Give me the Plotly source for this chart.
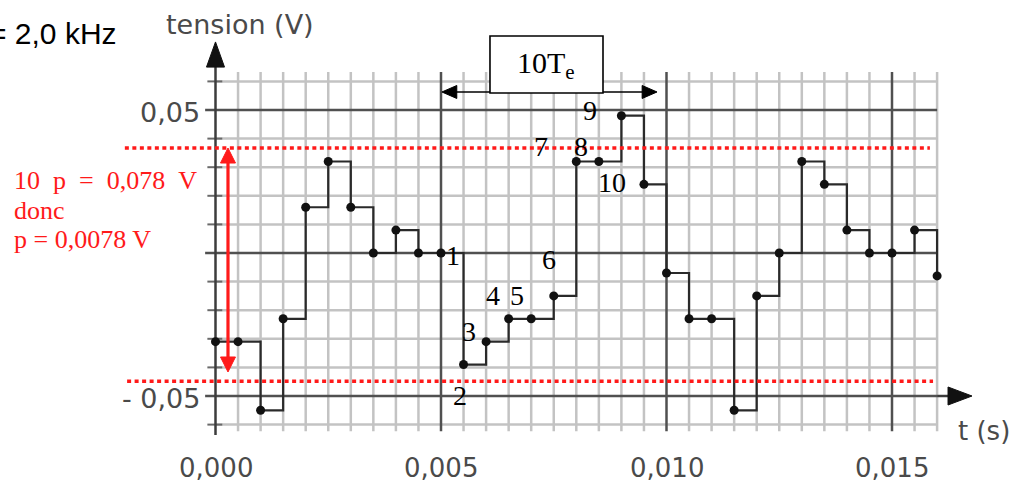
import plotly.graph_objects as go

# ---------------- data ----------------
t_samples = [0.0000, 0.0005, 0.0010, 0.0015, 0.0020, 0.0025, 0.0030, 0.0035,
             0.0040, 0.0045, 0.0050, 0.0055, 0.0060, 0.0065, 0.0070, 0.0075,
             0.0080, 0.0085, 0.0090, 0.0095, 0.0100, 0.0105, 0.0110, 0.0115,
             0.0120, 0.0125, 0.0130, 0.0135, 0.0140, 0.0145, 0.0150, 0.0155,
             0.0160]
v_samples = [-0.031, -0.031, -0.055, -0.023, 0.016, 0.032, 0.016, 0.000,
             0.008, 0.000, 0.000, -0.039, -0.031, -0.023, -0.023, -0.015,
             0.032, 0.032, 0.048, 0.024, -0.007, -0.023, -0.023, -0.055,
             -0.015, 0.000, 0.032, 0.024, 0.008, 0.000, 0.000, 0.008,
             -0.008]

x_tick_vals = [0.000, 0.005, 0.010, 0.015]
x_tick_text = ["0,000", "0,005", "0,010", "0,015"]
y_tick_vals = [0.05, -0.05]
y_tick_text = ["0,05", "- 0,05"]

point_labels = ["1", "2", "3", "4", "5", "6", "7", "8", "9", "10"]
label_t = [0.00527, 0.00542, 0.00562, 0.00615, 0.00668, 0.00740,
           0.00722, 0.00810, 0.00830, 0.00879]
label_v = [-0.0010, -0.0497, -0.0273, -0.0150, -0.0150, -0.0021,
           0.0371, 0.0371, 0.0497, 0.0245]

red_top = 0.0367
red_bottom = -0.0448

# ---------------- layout constants ----------------
X_RANGE = [-0.0047783, 0.0179268]
Y_RANGE = [-0.082168, 0.088462]
T_STEP = 0.0005
V_STEP = 0.01
T_MAX = 0.016
GRID_V_TOP = 0.0633
GRID_V_BOT = -0.0623

MINOR = "#c3c3c3"
MAJOR = "#505050"
GRAY_TXT = "#4a4a4a"

shapes = []


def line(x0, y0, x1, y1, color, width, layer="below", dash=None):
    d = dict(type="line", xref="x", yref="y", x0=x0, y0=y0, x1=x1, y1=y1,
             line=dict(color=color, width=width), layer=layer)
    if dash:
        d["line"]["dash"] = dash
    shapes.append(d)


def tri(pts, color, layer="above"):
    p = "M " + " L ".join(f"{a},{b}" for a, b in pts) + " Z"
    shapes.append(dict(type="path", xref="x", yref="y", path=p,
                       fillcolor=color, line=dict(color=color, width=1),
                       layer=layer))


# minor vertical grid lines
n_t = int(round(T_MAX / T_STEP))
for i in range(1, n_t + 1):
    t = i * T_STEP
    if i % 10 == 0:
        continue
    line(t, GRID_V_BOT, t, GRID_V_TOP, MINOR, 2.5)
# minor horizontal grid lines + ticks on y axis
for j in range(-6, 7):
    v = j * V_STEP
    if j % 5 == 0:
        continue
    line(0, v, T_MAX, v, MINOR, 2.5)
    line(-0.00018, v, 0.00015, v, "#6a6a6a", 2)
# major vertical
for i in range(10, n_t + 1, 10):
    t = i * T_STEP
    line(t, GRID_V_BOT, t, GRID_V_TOP, MAJOR, 2.5)
# major horizontal
for j in (-5, 0, 5):
    v = j * V_STEP
    line(-0.00023, v, T_MAX, v, MAJOR, 2.5)

# axes
line(0, -0.0636, 0, 0.066, "#3c3c3c", 2.5)
tri([(0, 0.0738), (-0.0002, 0.0650), (0.0002, 0.0650)], "#111111")
line(T_MAX, -0.05, 0.0163, -0.05, "#3c3c3c", 2.5)
tri([(0.016774, -0.05), (0.016242, -0.05315), (0.016242, -0.04685)], "#111111")

# red dotted lines
RED = "#ff1a1a"
line(-0.00201, red_top, 0.01584, red_top, RED, 3.5, layer="above", dash="4px,3.5px")
line(-0.00196, red_bottom, 0.01591, red_bottom, RED, 3.5, layer="above", dash="4px,3.5px")
# red double arrow
RX = 0.000277
line(RX, red_top - 0.004, RX, -0.0416 + 0.004, RED, 3.2, layer="above")
tri([(RX, red_top), (RX - 0.000166, red_top - 0.00524), (RX + 0.000166, red_top - 0.00524)], RED)
tri([(RX, -0.0416), (RX - 0.000166, -0.0416 + 0.00524), (RX + 0.000166, -0.0416 + 0.00524)], RED)

# 10Te double arrow and box
AY = 0.0563
line(0.0052, AY, 0.0096, AY, "#000000", 1.6, layer="above")
tri([(0.00502, AY), (0.00535, AY - 0.00227), (0.00535, AY + 0.00227)], "#000000")
tri([(0.00979, AY), (0.00946, AY - 0.00227), (0.00946, AY + 0.00227)], "#000000")
shapes.append(dict(type="rect", xref="x", yref="y", x0=0.006086, x1=0.008592,
                   y0=0.05594, y1=0.07587, fillcolor="white",
                   line=dict(color="black", width=1.6), layer="above"))

fig = go.Figure()
fig.add_trace(go.Scatter(
    x=t_samples, y=v_samples, mode="lines+markers",
    line=dict(shape="hv", color="#2a2a2a", width=2.2),
    marker=dict(size=9, color="#111111"),
    hoverinfo="skip", showlegend=False))

ann = []
SERIF = "Liberation Serif, Times New Roman, serif"
SANS = "DejaVu Sans, sans-serif"
for txt, tx, vy in zip(point_labels, label_t, label_v):
    ann.append(dict(x=tx, y=vy, xref="x", yref="y", text=txt, showarrow=False,
                    font=dict(family=SERIF, size=28, color="#000000"),
                    xanchor="center", yanchor="middle"))
for tv, tt in zip(x_tick_vals, x_tick_text):
    ann.append(dict(x=tv, y=-0.0752, xref="x", yref="y", text=tt, showarrow=False,
                    font=dict(family=SANS, size=26, color=GRAY_TXT),
                    xanchor="center", yanchor="middle"))
for yv, yt in zip(y_tick_vals, y_tick_text):
    ann.append(dict(x=-0.0003, y=yv - 0.001, xref="x", yref="y", text=yt,
                    showarrow=False,
                    font=dict(family=SANS, size=27, color=GRAY_TXT),
                    xanchor="right", yanchor="middle"))
ann.append(dict(x=0.00054, y=0.0800, xref="x", yref="y", text="tension (V)",
                showarrow=False, font=dict(family=SANS, size=27, color=GRAY_TXT),
                xanchor="center", yanchor="middle"))
ann.append(dict(x=0.01704, y=-0.0622, xref="x", yref="y", text="t (s)",
                showarrow=False, font=dict(family=SANS, size=26, color=GRAY_TXT),
                xanchor="center", yanchor="middle"))
ann.append(dict(x=0.00733, y=0.0656, xref="x", yref="y", text="10T<sub>e</sub>",
                showarrow=False, font=dict(family=SERIF, size=30, color="#000000"),
                xanchor="center", yanchor="middle"))
ann.append(dict(x=-13 / 1024, y=1 - 33 / 488, xref="paper", yref="paper",
                text="= 2,0 kHz", showarrow=False,
                font=dict(family="Liberation Sans, Arial, sans-serif", size=30,
                          color="#000000"),
                xanchor="left", yanchor="middle"))
nb = "\u00a0"
red_lines = [f"10{nb}{nb}p{nb}{nb}={nb}{nb}0,078{nb}{nb}V", "donc", "p = 0,0078 V"]
red_y = [1 - 180 / 488, 1 - 211 / 488, 1 - 239 / 488]
for txt, yy in zip(red_lines, red_y):
    ann.append(dict(x=12 / 1024, y=yy, xref="paper", yref="paper", text=txt,
                    showarrow=False, font=dict(family=SERIF, size=26, color=RED),
                    xanchor="left", yanchor="middle"))

fig.update_layout(
    width=1024, height=488,
    margin=dict(l=0, r=0, t=0, b=0),
    paper_bgcolor="white", plot_bgcolor="white",
    xaxis=dict(range=X_RANGE, visible=False, fixedrange=True),
    yaxis=dict(range=Y_RANGE, visible=False, fixedrange=True),
    shapes=shapes, annotations=ann, showlegend=False,
)

fig.write_html(
    "out.html",
    config={"displayModeBar": False},
    post_script="document.body.style.margin='0';document.body.style.padding='0';"
                "document.body.style.overflow='hidden';",
)
